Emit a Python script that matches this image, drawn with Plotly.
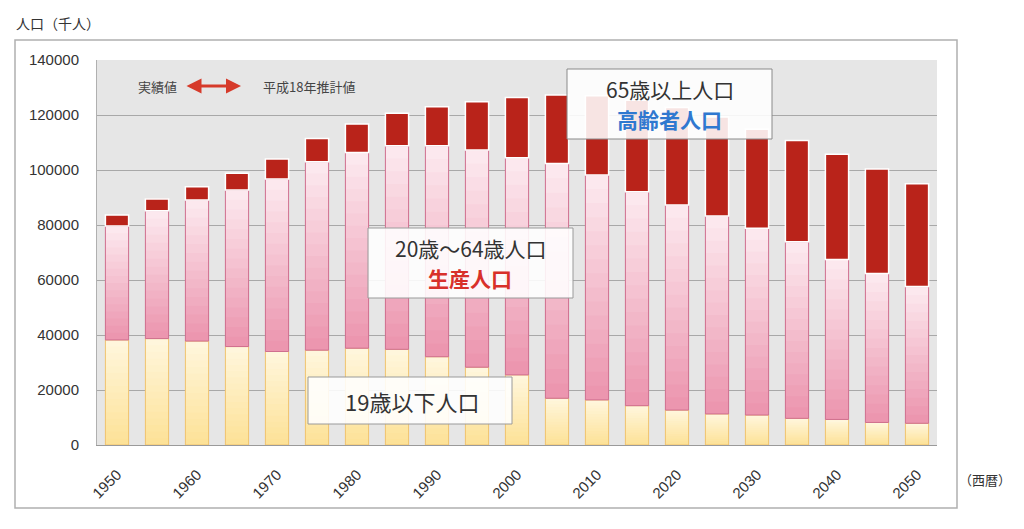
import plotly.graph_objects as go

# population by age group (thousand people)
years = [1950, 1955, 1960, 1965, 1970, 1975, 1980, 1985, 1990, 1995, 2000,
         2005, 2010, 2015, 2020, 2025, 2030, 2035, 2040, 2045, 2050]
young = [38200, 38700, 37800, 35800, 34000, 34500, 35200, 34800, 32100, 28300, 25500,
         17000, 16400, 14300, 12700, 11300, 10900, 9700, 9300, 8200, 7900]
working = [41400, 46500, 51300, 56900, 62700, 68500, 71200, 74000, 76700, 79000, 79000,
           85400, 81800, 77800, 74600, 72000, 67900, 64200, 58200, 54200, 49700]
elderly = [4000, 4300, 4800, 6100, 7300, 8500, 10300, 11800, 14200, 17500, 21900,
           24900, 28800, 33300, 35400, 36000, 36000, 36800, 38200, 38000, 37400]
tick_years = [1950, 1960, 1970, 1980, 1990, 2000, 2010, 2020, 2030, 2040, 2050]

JP = "Noto Sans CJK JP"
BW = 2.9  # bar width in years

# the page adds an 8px body margin, so the figure is 16px smaller
OFF = 8
W, H = 1024 - 2 * OFF, 529 - 2 * OFF
# plot area in page pixels (for placing labels)
L, R, T, B = 97, 937, 60, 445


def px(x):
    return (x - L) / (R - L)


def py(y):
    return (B - y) / (B - T)


def mix(c1, c2, f):
    return "rgb(%d,%d,%d)" % tuple(round(a + (b - a) * f) for a, b in zip(c1, c2))


fig = go.Figure()

bot_work = young
bot_old = [a + b for a, b in zip(young, working)]


def gradient_segment(base, height, c_bottom, c_top, edge, n=16):
    # each band runs to the segment top, the next one covers it -> no seams
    for k in range(n):
        fig.add_trace(go.Bar(
            x=years, base=[b + h * k / n for b, h in zip(base, height)],
            y=[h * (n - k) / n for h in height], width=BW,
            marker=dict(color=mix(c_bottom, c_top, k / (n - 1)), line=dict(width=0)),
            hoverinfo="skip", showlegend=False))
    fig.add_trace(go.Bar(
        x=years, base=base, y=height, width=BW,
        marker=dict(color="rgba(0,0,0,0)", line=dict(color=edge, width=1)),
        showlegend=False))


gradient_segment([0] * len(years), young, (253, 226, 152), (255, 246, 220), "#f0c36e")
gradient_segment(bot_work, working, (236, 150, 175), (252, 232, 238), "#cf6f8f")
fig.add_trace(go.Bar(
    x=years, base=bot_old, y=elderly, width=BW,
    marker=dict(color="#b9231a", line=dict(color="white", width=1.5)),
    showlegend=False))

shapes = [
    # outer frame
    dict(type="rect", xref="paper", yref="paper", x0=px(15), x1=px(957), y0=py(508), y1=py(40),
         line=dict(color="#b0b0b0", width=1.5), layer="below"),
    # label boxes
    dict(type="rect", xref="paper", yref="paper", x0=px(567), x1=px(772), y0=py(139), y1=py(69),
         fillcolor="rgba(255,255,255,0.88)", line=dict(color="#8a8a8a", width=1), layer="above"),
    dict(type="rect", xref="paper", yref="paper", x0=px(368), x1=px(573), y0=py(298), y1=py(228),
         fillcolor="rgba(255,255,255,0.88)", line=dict(color="#9a9a9a", width=1), layer="above"),
    dict(type="rect", xref="paper", yref="paper", x0=px(308), x1=px(512), y0=py(424), y1=py(377),
         fillcolor="rgba(255,255,255,0.88)", line=dict(color="#9a9a9a", width=1), layer="above"),
]

annotations = [
    dict(text="人口（千人）", x=px(14), y=py(23), xanchor="left", font=dict(size=14, color="#333")),
    dict(text="（西暦）", x=px(1013), y=py(479), xanchor="right", font=dict(size=13, color="#333")),
    dict(text="実績値", x=px(157), y=py(86), font=dict(size=13, color="#444")),
    dict(text="平成18年推計値", x=px(309), y=py(86), font=dict(size=13, color="#444")),
    dict(text="", x=px(241), y=py(86), ax=-56, ay=0, showarrow=True, arrowside="end+start",
         arrowhead=2, arrowsize=1, arrowwidth=3, arrowcolor="#d63a2a"),
    dict(text="65歳以上人口", x=px(670), y=py(89), font=dict(size=21, color="#333")),
    dict(text="<b>高齢者人口</b>", x=px(669), y=py(119), font=dict(size=21, color="#2f78d0")),
    dict(text="20歳～64歳人口", x=px(471), y=py(248), font=dict(size=21, color="#333")),
    dict(text="<b>生産人口</b>", x=px(470), y=py(278), font=dict(size=21, color="#d8302a")),
    dict(text="19歳以下人口", x=px(412), y=py(401), font=dict(size=22, color="#333")),
]
for a in annotations:
    a.setdefault("xref", "paper")
    a.setdefault("yref", "paper")
    a.setdefault("xanchor", "center")
    a.setdefault("yanchor", "middle")
    a.setdefault("showarrow", False)

fig.update_layout(
    width=W, height=H,
    margin=dict(l=L - OFF, r=W - (R - OFF), t=T - OFF, b=H - (B - OFF)),
    paper_bgcolor="white", plot_bgcolor="#e6e6e6",
    barmode="overlay", showlegend=False,
    font=dict(family=JP, color="#333"),
    shapes=shapes, annotations=annotations,
    xaxis=dict(range=[1947.5, 2052.5], tickvals=tick_years, ticktext=[str(y) for y in tick_years],
               tickangle=-45, showgrid=False, showline=True, linecolor="#9a9a9a",
               ticks="", ticklabelstandoff=14,
               tickfont=dict(family="Liberation Sans", size=15, color="#333")),
    yaxis=dict(range=[0, 140000], dtick=20000, tickformat="d", gridcolor="#a8a8a8",
               gridwidth=1, zeroline=False, showline=True, linecolor="#b0b0b0",
               ticks="", ticklen=0, ticklabelstandoff=14,
               tickfont=dict(family="Liberation Sans", size=15, color="#333")),
)

fig.write_html("out.html")
